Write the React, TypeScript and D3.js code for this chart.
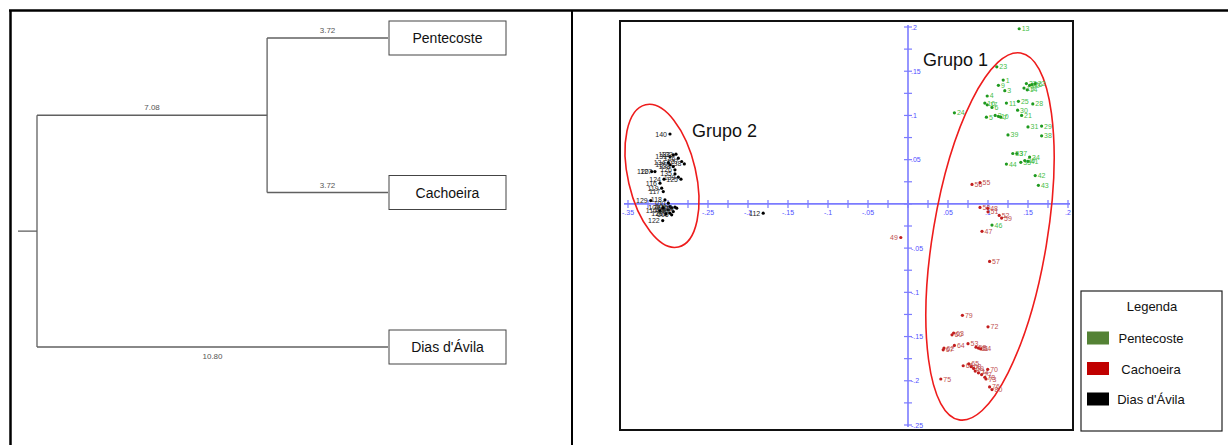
import React from "react";
import * as d3 from "d3";

const W = 1228;
const H = 445;
const FONT = "'Liberation Sans', Arial, sans-serif";

// ---------- Dendrogram data ----------
const leafNames = ["Pentecoste", "Cachoeira", "Dias d'Ávila"];
const leafLengths = [3.72, 3.72, 10.8];
const cladeLength = 7.08; // branch joining Pentecoste + Cachoeira
const distDomain = [0, 10.8];

// ---------- PCoA data (x, y coordinates per sample) ----------
const greenIds = [13, 23, 1, 9, 3, 19, 32, 20, 26, 22, 14, 4, 16, 17, 6, 11, 25, 28, 5, 2, 10, 7, 30, 21, 24, 31, 29, 39, 38, 33, 37, 44, 35, 41, 34, 36, 42, 43, 46];
const greenX = [0.139, 0.111, 0.119, 0.113, 0.121, 0.145, 0.148, 0.152, 0.155, 0.159, 0.149, 0.099, 0.096, 0.099, 0.105, 0.123, 0.138, 0.156, 0.098, 0.109, 0.113, 0.116, 0.137, 0.142, 0.058, 0.15, 0.167, 0.125, 0.167, 0.131, 0.136, 0.123, 0.141, 0.15, 0.152, 0.146, 0.159, 0.163, 0.105];
const greenY = [0.198, 0.155, 0.14, 0.134, 0.128, 0.131, 0.136, 0.134, 0.135, 0.136, 0.129, 0.122, 0.114, 0.112, 0.109, 0.114, 0.116, 0.113, 0.098, 0.1, 0.099, 0.098, 0.106, 0.1, 0.103, 0.087, 0.088, 0.078, 0.077, 0.057, 0.057, 0.045, 0.047, 0.048, 0.053, 0.049, 0.032, 0.021, -0.024];

const redIds = [56, 55, 49, 50, 48, 51, 52, 59, 47, 57, 79, 72, 63, 60, 62, 67, 64, 53, 58, 61, 54, 66, 65, 68, 69, 71, 74, 77, 78, 73, 70, 76, 75, 80];
const redX = [0.08, 0.09, -0.009, 0.09, 0.0996, 0.1, 0.114, 0.117, 0.0925, 0.102, 0.068, 0.1, 0.057, 0.055, 0.045, 0.044, 0.058, 0.075, 0.085, 0.088, 0.091, 0.069, 0.076, 0.079, 0.082, 0.084, 0.088, 0.092, 0.096, 0.0975, 0.0996, 0.102, 0.041, 0.105];
const redY = [0.022, 0.024, -0.038, -0.004, -0.005, -0.009, -0.013, -0.016, -0.031, -0.065, -0.126, -0.139, -0.146, -0.148, -0.163, -0.165, -0.16, -0.158, -0.162, -0.163, -0.164, -0.183, -0.181, -0.184, -0.186, -0.189, -0.191, -0.193, -0.196, -0.198, -0.187, -0.207, -0.198, -0.21];

const blackIds = [140, 131, 132, 133, 136, 137, 138, 134, 130, 128, 126, 135, 139, 125, 120, 127, 124, 116, 119, 117, 129, 118, 100, 101, 102, 103, 104, 105, 106, 107, 108, 109, 110, 121, 122, 112];
const blackX = [-0.2975, -0.2975, -0.2934, -0.29, -0.2871, -0.2829, -0.2796, -0.2996, -0.2975, -0.2934, -0.2913, -0.2913, -0.2871, -0.2838, -0.3204, -0.3163, -0.305, -0.31, -0.3079, -0.3059, -0.3216, -0.3038, -0.2996, -0.2975, -0.2954, -0.2996, -0.2934, -0.2975, -0.2954, -0.2913, -0.2891, -0.3063, -0.31, -0.3025, -0.3066, -0.181];
const blackY = [0.079, 0.0535, 0.0554, 0.0562, 0.0517, 0.0479, 0.0452, 0.0467, 0.0441, 0.0422, 0.0385, 0.0339, 0.0302, 0.0279, 0.0365, 0.0365, 0.0279, 0.0234, 0.0178, 0.0139, 0.0037, 0.0045, 0.0008, -0.003, -0.0049, -0.0068, -0.0087, -0.0105, -0.0124, -0.0037, -0.0049, -0.0045, -0.0079, -0.0113, -0.0189, -0.0105];

const leftLabelIds = [49];

const legendLabels = ["Pentecoste", "Cachoeira", "Dias d'Ávila"];
const legendColors = ["#548235", "#c00000", "#000000"];

const fmt = (v: number) => {
  const s = String(+v.toFixed(3));
  return s.replace(/^(-?)0\./, "$1.");
};

function Dendrogram() {
  const x = d3.scaleLinear().domain(distDomain).range([37, 388]);
  const yLeaf = d3.scalePoint<string>().domain(leafNames).range([38, 347]);
  const treeData = {
    name: "root",
    length: 0,
    children: [
      {
        name: "clade",
        length: cladeLength,
        children: [
          { name: leafNames[0], length: leafLengths[0] },
          { name: leafNames[1], length: leafLengths[1] },
        ],
      },
      { name: leafNames[2], length: leafLengths[2] },
    ],
  };
  const root: any = d3.hierarchy(treeData as any);
  root.eachBefore((n: any) => {
    n.dist = (n.parent ? n.parent.dist : 0) + n.data.length;
  });
  root.eachAfter((n: any) => {
    n.py = n.children ? d3.mean(n.children, (c: any) => c.py) : yLeaf(n.data.name);
  });
  const nodes = root.descendants();
  const stroke = "#606060";
  const boxW = 117;
  const boxH = 34;
  return (
    <g>
      <line x1={x(0) - 19} x2={x(0)} y1={root.py} y2={root.py} stroke={stroke} strokeWidth={1.3} />
      {nodes
        .filter((n: any) => n.children)
        .map((n: any, i: number) => (
          <line key={"v" + i} x1={x(n.dist)} x2={x(n.dist)} y1={d3.min(n.children, (c: any) => c.py)} y2={d3.max(n.children, (c: any) => c.py)} stroke={stroke} strokeWidth={1.3} />
        ))}
      {nodes
        .filter((n: any) => n.parent)
        .map((n: any, i: number) => {
          const below = !n.children && n.data.name === leafNames[2];
          return (
            <g key={"h" + i}>
              <line x1={x(n.parent.dist)} x2={x(n.dist)} y1={n.py} y2={n.py} stroke={stroke} strokeWidth={1.3} />
              <text x={(x(n.parent.dist) + x(n.dist)) / 2} y={below ? n.py + 12 : n.py - 5} fontSize={8} fill="#555" textAnchor="middle" fontFamily={FONT}>
                {n.data.length.toFixed(2)}
              </text>
            </g>
          );
        })}
      {nodes
        .filter((n: any) => !n.children)
        .map((n: any, i: number) => (
          <g key={"b" + i}>
            <rect x={x(n.dist) + 1} y={n.py - boxH / 2} width={boxW} height={boxH} fill="#fff" stroke="#444" strokeWidth={1} />
            <text x={x(n.dist) + 1 + boxW / 2} y={n.py + 5} fontSize={14} textAnchor="middle" fill="#111" fontFamily={FONT}>
              {n.data.name}
            </text>
          </g>
        ))}
    </g>
  );
}

function Scatter() {
  const x = d3.scaleLinear().domain([-0.35, 0.2]).range([628, 1068]);
  const y = d3.scaleLinear().domain([-0.25, 0.2]).range([425, 27]);
  const axisColor = "#7b7bff";
  const labelColor = "#4f4fff";
  const x0 = x(0);
  const y0 = y(0);
  const xt = d3.range(-14, 9).map((i) => i * 0.025);
  const yt = d3.range(-10, 9).map((i) => i * 0.025);

  const groups = [
    { ids: greenIds, xs: greenX, ys: greenY, dot: "#1f9a1f", lab: "#47c047", left: false },
    { ids: redIds, xs: redX, ys: redY, dot: "#c21e1e", lab: "#c05050", left: false },
    { ids: blackIds, xs: blackX, ys: blackY, dot: "#000", lab: "#222", left: true },
  ];

  // ellipse annotations (center in data units)
  const ell = [
    { cx: 0.1025, cy: -0.0368, rx: 57, ry: 186, rot: 9.5 },
    { cx: -0.3075, cy: 0.0317, rx: 34, ry: 73, rot: -13 },
  ];

  return (
    <g>
      <rect x={620} y={21} width={453} height={409} fill="#fff" stroke="#111" strokeWidth={2} />
      {/* axes */}
      <line x1={x(-0.35) - 4} x2={x(0.2) + 2} y1={y0} y2={y0} stroke={axisColor} strokeWidth={1.6} />
      <line x1={x0} x2={x0} y1={y(0.2) - 2} y2={y(-0.25) + 2} stroke={axisColor} strokeWidth={1.6} />
      {xt.map((v, i) => {
        const major = Math.round(v / 0.025) % 2 === 0;
        const showLab = major && Math.abs(v) > 1e-9 && Math.abs(v + 0.3) > 1e-9;
        return (
          <g key={"xt" + i}>
            <line x1={x(v)} x2={x(v)} y1={y0 - 4} y2={y0 + 4} stroke={axisColor} strokeWidth={1.2} />
            {showLab && (
              <text x={x(v)} y={y0 + 11} fontSize={7} fill={labelColor} textAnchor="middle" fontFamily={FONT}>
                {fmt(v)}
              </text>
            )}
          </g>
        );
      })}
      {yt.map((v, i) => {
        const major = Math.round(v / 0.025) % 2 === 0;
        const showLab = major && Math.abs(v) > 1e-9;
        return (
          <g key={"yt" + i}>
            <line x1={x0 - 4} x2={x0 + 4} y1={y(v)} y2={y(v)} stroke={axisColor} strokeWidth={1.2} />
            {showLab && (
              <text x={x0 + 3} y={y(v) + 2.5} fontSize={7} fill={labelColor} textAnchor="start" fontFamily={FONT}>
                {fmt(v)}
              </text>
            )}
          </g>
        );
      })}
      {/* ellipses */}
      {ell.map((e, i) => (
        <ellipse key={"e" + i} cx={0} cy={0} rx={e.rx} ry={e.ry} transform={`translate(${x(e.cx)},${y(e.cy)}) rotate(${e.rot})`} fill="none" stroke="#ee1c1c" strokeWidth={1.6} />
      ))}
      {/* points */}
      {groups.map((g, gi) => (
        <g key={"g" + gi}>
          {g.ids.map((id, i) => {
            const px = x(g.xs[i]);
            const py = y(g.ys[i]);
            const left = g.left || leftLabelIds.includes(id);
            return (
              <g key={id}>
                <circle cx={px} cy={py} r={1.6} fill={g.dot} />
                <text x={left ? px - 3 : px + 2.5} y={py + 2.5} fontSize={7} fill={g.lab} textAnchor={left ? "end" : "start"} fontFamily={FONT}>
                  {id}
                </text>
              </g>
            );
          })}
        </g>
      ))}
      <text x={923} y={66} fontSize={18} fill="#111" fontFamily={FONT}>Grupo 1</text>
      <text x={692} y={137} fontSize={18} fill="#111" fontFamily={FONT}>Grupo 2</text>
    </g>
  );
}

function Legend() {
  const ys = d3.scalePoint<string>().domain(legendLabels).range([338, 399]);
  return (
    <g>
      <rect x={1081} y={291} width={141} height={140} fill="#fff" stroke="#222" strokeWidth={1.2} />
      <text x={1152} y={311} fontSize={13} textAnchor="middle" fill="#111" fontFamily={FONT}>Legenda</text>
      {legendLabels.map((l, i) => (
        <g key={l}>
          <rect x={1087} y={(ys(l) as number) - 6.5} width={22} height={13} fill={legendColors[i]} />
          <text x={1151} y={(ys(l) as number) + 5} fontSize={13} textAnchor="middle" fill="#111" fontFamily={FONT}>
            {l}
          </text>
        </g>
      ))}
    </g>
  );
}

export default function App() {
  return (
    <svg width={W} height={H} style={{ position: "absolute", left: 0, top: 0, background: "#fff" }}>
      <rect x={0} y={0} width={W} height={H} fill="#fff" />
      <line x1={9} x2={W} y1={10.5} y2={10.5} stroke="#000" strokeWidth={2.5} />
      <line x1={10.5} x2={10.5} y1={10} y2={H} stroke="#000" strokeWidth={2.5} />
      <line x1={572} x2={572} y1={10} y2={H} stroke="#000" strokeWidth={2} />
      <Dendrogram />
      <Scatter />
      <Legend />
    </svg>
  );
}
